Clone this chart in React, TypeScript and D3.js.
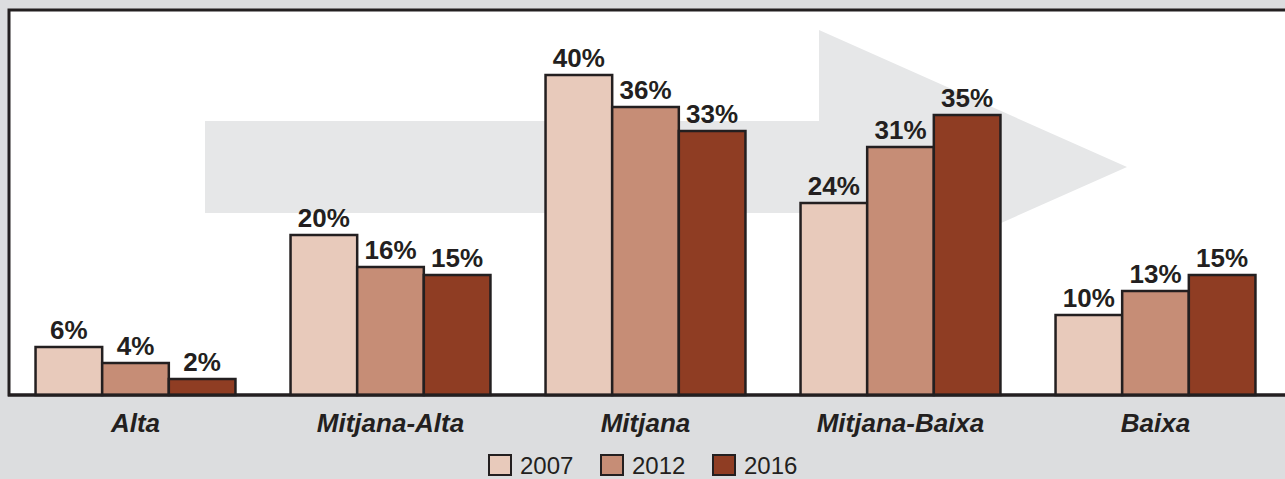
import React, { useRef, useEffect } from 'react';
import * as d3 from 'd3';

const categories = ['Alta', 'Mitjana-Alta', 'Mitjana', 'Mitjana-Baixa', 'Baixa'];
const years = ['2007', '2012', '2016'];
const values2007 = [6, 20, 40, 24, 10];
const values2012 = [4, 16, 36, 31, 13];
const values2016 = [2, 15, 33, 35, 15];
const colors = ['#e8cabb', '#c68d76', '#8f3d23'];

function App() {
  const svgRef = useRef<SVGSVGElement>(null);

  useEffect(() => {
    const svg = d3.select(svgRef.current);
    svg.selectAll('*').remove();
    const width = 1285;
    const height = 479;
    const margin = { top: 10, right: 2, bottom: 84, left: 8 };
    const series = [values2007, values2012, values2016];
    const font = 'Liberation Sans, Arial, Helvetica, sans-serif';

    // gray page background
    svg.append('rect').attr('width', width).attr('height', height).attr('fill', '#dcdddf');

    // white plot area
    svg.append('rect')
      .attr('x', margin.left + 1).attr('y', margin.top)
      .attr('width', width - margin.left - margin.right + 4)
      .attr('height', height - margin.bottom - margin.top)
      .attr('fill', '#fff')
      .attr('stroke', '#231f20').attr('stroke-width', 3);

    // decorative arrow in the background
    svg.append('polygon')
      .attr('points', '205,121 819,121 819,30 1127,167 819,304 819,213 205,213')
      .attr('fill', '#e6e7e8');

    const x = d3.scaleBand()
      .domain(categories)
      .range([margin.left, width - margin.right])
      .paddingInner(0.216)
      .paddingOuter(0.108);

    const x1 = d3.scaleBand().domain(years).range([0, x.bandwidth()]);

    const y = d3.scaleLinear()
      .domain([0, 40])
      .range([height - margin.bottom, height - margin.bottom - 320]);

    const groups = svg.append('g')
      .selectAll('g')
      .data(categories)
      .join('g')
      .attr('transform', d => `translate(${x(d)},0)`);

    years.forEach((yr, si) => {
      groups.append('rect')
        .attr('x', x1(yr)!)
        .attr('y', (d, i) => y(series[si][i]))
        .attr('width', x1.bandwidth())
        .attr('height', (d, i) => y(0) - y(series[si][i]))
        .attr('fill', colors[si])
        .attr('stroke', '#231f20').attr('stroke-width', 2.5);

      groups.append('text')
        .attr('x', x1(yr)! + x1.bandwidth() / 2)
        .attr('y', (d, i) => y(series[si][i]) - 8)
        .attr('text-anchor', 'middle')
        .attr('font-family', font)
        .attr('font-weight', 'bold')
        .attr('font-size', 26)
        .attr('fill', '#231f20')
        .text((d, i) => `${series[si][i]}%`);
    });

    // baseline
    svg.append('line')
      .attr('x1', margin.left).attr('x2', width)
      .attr('y1', y(0)).attr('y2', y(0))
      .attr('stroke', '#231f20').attr('stroke-width', 3);

    // category labels
    svg.append('g')
      .selectAll('text')
      .data(categories)
      .join('text')
      .attr('x', d => x(d)! + x.bandwidth() / 2)
      .attr('y', 432)
      .attr('text-anchor', 'middle')
      .attr('font-family', font)
      .attr('font-weight', 'bold')
      .attr('font-style', 'italic')
      .attr('font-size', 26)
      .attr('fill', '#231f20')
      .text(d => d);

    // legend
    const legendX = [489, 601, 713];
    const legend = svg.append('g')
      .selectAll('g')
      .data(years)
      .join('g')
      .attr('transform', (d, i) => `translate(${legendX[i]},455)`);
    legend.append('rect')
      .attr('width', 22).attr('height', 20)
      .attr('fill', (d, i) => colors[i])
      .attr('stroke', '#231f20').attr('stroke-width', 2);
    legend.append('text')
      .attr('x', 31).attr('y', 19)
      .attr('font-family', font)
      .attr('font-size', 24)
      .attr('fill', '#231f20')
      .text(d => d);
  }, []);

  return (
    <svg ref={svgRef} width={1285} height={479}
      style={{ position: 'absolute', left: 0, top: 0 }} />
  );
}

export default App;
